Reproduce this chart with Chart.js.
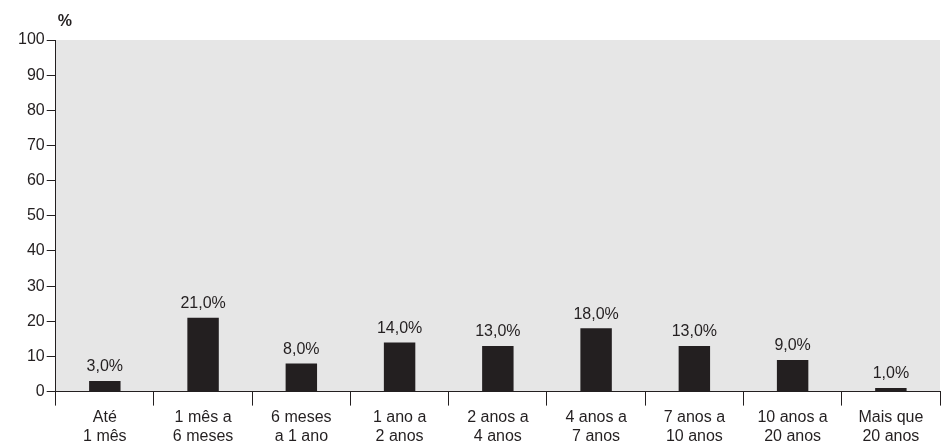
<!DOCTYPE html>
<html><head><meta charset="utf-8">
<script src="https://cdn.jsdelivr.net/npm/chart.js@4"></script>
<style>html,body{margin:0;padding:0;background:#fff}#w{width:946px;height:448px}</style>
</head><body><div id="w"><canvas id="c"></canvas></div>
<script>
const categories=[["Até","1 mês"],["1 mês a","6 meses"],["6 meses","a 1 ano"],["1 ano a","2 anos"],["2 anos a","4 anos"],["4 anos a","7 anos"],["7 anos a","10 anos"],["10 anos a","20 anos"],["Mais que","20 anos"]];
const values=[3,21,8,14,13,18,13,9,1];
const labels=["3,0%","21,0%","8,0%","14,0%","13,0%","18,0%","13,0%","9,0%","1,0%"];
const F="'Liberation Sans', Arial, sans-serif";
const bg={id:'bg',beforeDraw(c){const a=c.chartArea,x=c.ctx;x.save();x.fillStyle='#e6e6e6';x.fillRect(a.left,a.top,a.right-a.left,a.bottom-a.top);x.restore();}};
const lbl={id:'lbl',afterDatasetsDraw(c){const x=c.ctx;x.save();x.font='16px '+F;x.fillStyle='#231f20';x.textAlign='center';x.textBaseline='bottom';
c.getDatasetMeta(0).data.forEach((b,i)=>x.fillText(labels[i],b.x,b.y-6));
x.font='bold 16px '+F;x.textAlign='left';x.fillText('%',c.chartArea.left+2,c.chartArea.top-10);x.restore();}};
new Chart(document.getElementById('c'),{type:'bar',
data:{labels:categories,datasets:[{data:values,backgroundColor:'#231f20',barPercentage:0.32,categoryPercentage:1}]},
options:{responsive:true,maintainAspectRatio:false,animation:false,
layout:{padding:{top:40,right:6,left:16,bottom:0}},
plugins:{legend:{display:false},tooltip:{enabled:false}},
scales:{
y:{min:0,max:100,ticks:{stepSize:10,color:'#231f20',font:{family:F,size:16},padding:2},grid:{drawOnChartArea:false,color:'#231f20',tickLength:9},border:{color:'#231f20'}},
x:{offset:true,ticks:{color:'#231f20',font:{family:F,size:16},maxRotation:0,autoSkip:false,padding:2},grid:{drawOnChartArea:false,offset:true,color:'#231f20',tickLength:14},border:{color:'#231f20'}}
}},plugins:[bg,lbl]});
</script></body></html>
